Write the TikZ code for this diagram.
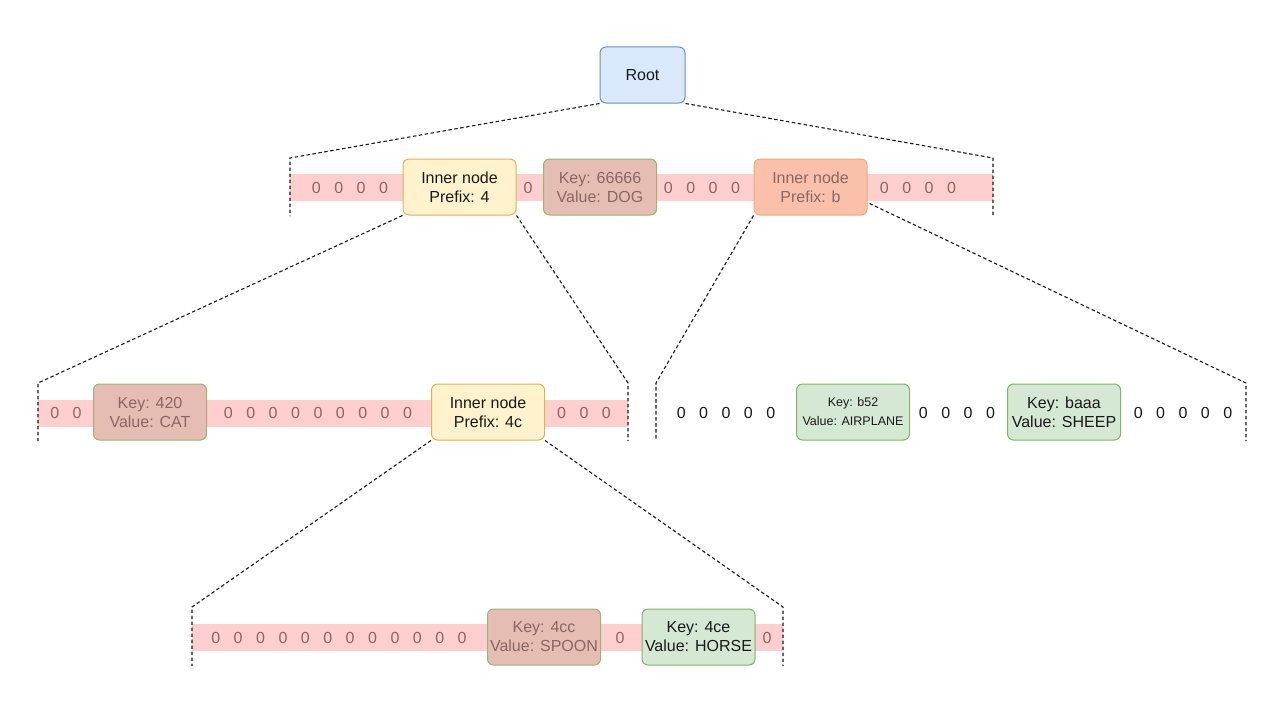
\documentclass[tikz,border=0pt]{standalone}
\usepackage{fontspec}
\setmainfont{Liberation Sans}
\definecolor{rootF}{RGB}{218,232,252}
\definecolor{rootS}{RGB}{108,142,191}
\definecolor{yelF}{RGB}{255,242,204}
\definecolor{yelS}{RGB}{214,182,86}
\definecolor{oraF}{RGB}{251,192,170}
\definecolor{oraS}{RGB}{240,170,120}
\definecolor{delF}{RGB}{229,189,178}
\definecolor{delS}{RGB}{150,180,115}
\definecolor{grnF}{RGB}{213,232,212}
\definecolor{grnS}{RGB}{130,179,102}
\definecolor{bandF}{RGB}{255,206,206}
\definecolor{fade}{RGB}{140,102,100}
\definecolor{ink}{RGB}{25,25,25}
\newcommand{\fsz}{\fontsize{16pt}{19pt}\selectfont}
\newcommand{\fsm}{\fontsize{12.5pt}{19pt}\selectfont}
\tikzset{
  box/.style={draw, rounded corners=6pt, minimum width=113pt, minimum height=56pt,
    inner sep=0pt, align=center, font=\fsz, line width=1pt, text=ink},
  rootbox/.style={box, fill=rootF, draw=rootS, minimum width=85pt},
  innerbox/.style={box, fill=yelF, draw=yelS},
  innerfade/.style={box, fill=oraF, draw=oraS, text=fade},
  keyfade/.style={box, fill=delF, draw=delS, text=fade},
  keybox/.style={box, fill=grnF, draw=grnS},
  band/.style={fill=bandF, draw=none, inner sep=0pt, minimum height=27pt},
  zeros/.style={font=\fsz, text=fade, inner sep=0pt},
  zerosk/.style={font=\fsz, text=ink, inner sep=0pt},
  outline/.style={draw=ink, dash pattern=on 3.5pt off 2.5pt, line width=1.1pt}
}
\begin{document}
\begin{tikzpicture}[x=1pt,y=-1pt]
\useasboundingbox (0,0) rectangle (1280,709);
% bands
\node[band, minimum width=703pt] (band1) at (641.5,187.5) {};
\node[band, minimum width=590pt] (band2) at (333,413) {};
\node[band, minimum width=591pt] (band3) at (487.5,637.5) {};
% nodes
\node[rootbox] (root) at (642.5,75) {Root};
% level 1
\node[innerbox] (in4) at (459.5,187) {Inner node\\Prefix: 4};
\node[keyfade] (k66666) at (600,187) {Key: 66666\\Value: DOG};
\node[innerfade] (inb) at (810.5,187) {Inner node\\Prefix: b};
\node[zeros] (z1a) at (350,188) {0\hspace{13.5pt}0\hspace{13.5pt}0\hspace{13.5pt}0};
\node[zeros] (z1b) at (528,188) {0};
\node[zeros] (z1c) at (702,188) {0\hspace{13.5pt}0\hspace{13.5pt}0\hspace{13.5pt}0};
\node[zeros] (z1d) at (918,188) {0\hspace{13.5pt}0\hspace{13.5pt}0\hspace{13.5pt}0};
% level 2 left
\node[keyfade] (k420) at (150,412) {Key: 420\\Value: CAT};
\node[innerbox] (in4c) at (488,412) {Inner node\\Prefix: 4c};
\node[zeros] (z2a) at (66,413) {0\hspace{13.5pt}0};
\node[zeros] (z2b) at (318,413) {0\hspace{13.5pt}0\hspace{13.5pt}0\hspace{13.5pt}0\hspace{13.5pt}0\hspace{13.5pt}0\hspace{13.5pt}0\hspace{13.5pt}0\hspace{13.5pt}0};
\node[zeros] (z2c) at (584,413) {0\hspace{13.5pt}0\hspace{13.5pt}0};
% level 2 right
\node[keybox, font=\fsm] (kb52) at (853,412) {Key: b52\\Value: AIRPLANE};
\node[keybox] (kbaaa) at (1064,412) {Key: baaa\\Value: SHEEP};
\node[zerosk] (z2d) at (726,413) {0\hspace{13.5pt}0\hspace{13.5pt}0\hspace{13.5pt}0\hspace{13.5pt}0};
\node[zerosk] (z2e) at (957,413) {0\hspace{13.5pt}0\hspace{13.5pt}0\hspace{13.5pt}0};
\node[zerosk] (z2f) at (1183,413) {0\hspace{13.5pt}0\hspace{13.5pt}0\hspace{13.5pt}0\hspace{13.5pt}0};
% level 3
\node[keyfade] (k4cc) at (544,637) {Key: 4cc\\Value: SPOON};
\node[keybox] (k4ce) at (698.5,637) {Key: 4ce\\Value: HORSE};
\node[zeros] (z3a) at (339,638) {0\hspace{13.5pt}0\hspace{13.5pt}0\hspace{13.5pt}0\hspace{13.5pt}0\hspace{13.5pt}0\hspace{13.5pt}0\hspace{13.5pt}0\hspace{13.5pt}0\hspace{13.5pt}0\hspace{13.5pt}0\hspace{13.5pt}0};
\node[zeros] (z3b) at (620,638) {0};
\node[zeros] (z3c) at (767,638) {0};
% outline coordinates
\coordinate (a1) at (290,158); \coordinate (a2) at (290,216);
\coordinate (b1) at (993,158); \coordinate (b2) at (993,216);
\coordinate (c1) at (38,383);  \coordinate (c2) at (38,441);
\coordinate (d1) at (628,383); \coordinate (d2) at (628,441);
\coordinate (e1) at (656,383); \coordinate (e2) at (656,441);
\coordinate (f1) at (1246,383); \coordinate (f2) at (1246,441);
\coordinate (g1) at (192,607); \coordinate (g2) at (192,666);
\coordinate (h1) at (783,607); \coordinate (h2) at (783,666);
% outlines
\draw[outline] (root.south west) -- (a1) -- (a2);
\draw[outline] (root.south east) -- (b1) -- (b2);
\draw[outline] (in4.south west) -- (c1) -- (c2);
\draw[outline] (in4.south east) -- (d1) -- (d2);
\draw[outline] (inb.south west) -- (e1) -- (e2);
\draw[outline] ([xshift=2pt,yshift=12pt]inb.south east) -- (f1) -- (f2);
\draw[outline] (in4c.south west) -- (g1) -- (g2);
\draw[outline] (in4c.south east) -- (h1) -- (h2);
\end{tikzpicture}
\end{document}
